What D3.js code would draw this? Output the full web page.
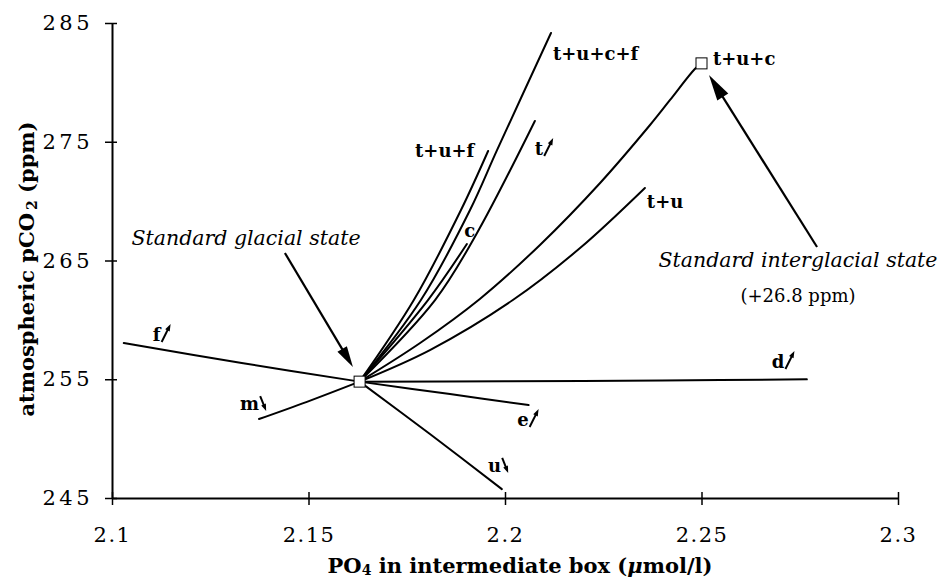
<!DOCTYPE html>
<html>
<head>
<meta charset="utf-8">
<script src="https://cdn.jsdelivr.net/npm/d3@7"></script>
<style>
  body { margin: 0; background: #fff; }
  svg { display: block; }
  text { font-family: "DejaVu Serif", serif; fill: #000; }
</style>
</head>
<body>
<svg id="chart" width="944" height="580"></svg>
<script>
// Axis ticks
const xTicks = [2.1, 2.15, 2.2, 2.25, 2.3];
const yTicks = [245, 255, 265, 275, 285];

// Model states [PO4 (umol/l), pCO2 (ppm)]
const glacialState = [2.163, 254.8];
const interglacialState = [2.25, 281.6];

// Sensitivity runs, each starting from the standard glacial state
const runF    = [[2.133, 256.37], [2.103, 258.05]];
const runM    = [[2.1496, 253.1], [2.1374, 251.65]];
const runE    = [[2.186, 253.75], [2.206, 252.83]];
const runD    = [[2.2, 254.83], [2.24, 254.9], [2.2768, 254.99]];
const runU    = [[2.1809, 250.39], [2.1992, 245.75]];
const runTUF  = [[2.1768, 261.67], [2.1888, 269.25], [2.1957, 274.22]];
const runTUCF = [[2.1786, 261.67], [2.1911, 269.25], [2.198, 274.31], [2.2117, 284.16]];
const runC    = [[2.1804, 261.67], [2.1903, 266.39]];
const runT    = [[2.1822, 261.67], [2.1926, 267.15], [2.2076, 276.75]];
const runTU   = [[2.1809, 257.46], [2.202, 261.67], [2.2191, 266.05], [2.2356, 271.11]];
const runTUC  = [[2.1784, 258.05], [2.1936, 261.76], [2.2089, 266.31], [2.2242, 271.53], [2.2369, 276.41], [2.242, 278.52], [2.2483, 281.13], [2.25, 281.6]];

const runs = [runF, runM, runE, runD, runU, runTUF, runTUCF, runC, runT, runTU, runTUC];

// Curve labels: text, anchor [PO4, pCO2], optional direction arrow
const curveLabels = [
  { text: "t+u+c+f", at: [2.2122, 281.88] },
  { text: "t+u+f",   at: [2.1771, 273.72] },
  { text: "t",       at: [2.2076, 273.88], arrow: "up" },
  { text: "c",       at: [2.1896, 266.98] },
  { text: "t+u",     at: [2.2361, 269.42] },
  { text: "t+u+c",   at: [2.2529, 281.46] },
  { text: "f",       at: [2.1104, 258.22], arrow: "up" },
  { text: "m",       at: [2.1326, 252.41], arrow: "down" },
  { text: "e",       at: [2.2031, 251.06], arrow: "up" },
  { text: "d",       at: [2.2679, 255.95], arrow: "up" },
  { text: "u",       at: [2.1957, 247.19], arrow: "down" }
];

// Callout arrows: tail -> tip
const glacialCallout = { tail: [2.144, 265.63], tip: [2.1613, 256.03] };
const interglacialCallout = { tail: [2.2794, 266.14], tip: [2.2519, 280.62] };

const svg = d3.select("#chart");
const x = d3.scaleLinear().domain([2.1, 2.3]).range([112, 898]);
const y = d3.scaleLinear().domain([245, 285]).range([498, 23]);

svg.append("rect").attr("width", 944).attr("height", 580).attr("fill", "#fff");

// Axes with ticks crossing the axis line
const xAxis = svg.append("g").attr("transform", `translate(0,${y(245)})`)
  .call(d3.axisBottom(x).tickValues(xTicks).tickSize(7).tickSizeOuter(0).tickPadding(22)
    .tickFormat(d => d3.format("")(+d.toFixed(2))));
const yAxis = svg.append("g").attr("transform", `translate(${x(2.1)},0)`)
  .call(d3.axisLeft(y).tickValues(yTicks).tickSize(7).tickSizeOuter(0).tickPadding(12));

[xAxis, yAxis].forEach(g => {
  g.select(".domain").attr("stroke", "#000").attr("stroke-width", 2);
  g.selectAll(".tick line").attr("stroke", "#000").attr("stroke-width", 1.5);
  g.selectAll(".tick text").style("font-family", "DejaVu Serif").style("font-size", "21px");
});
xAxis.selectAll(".tick line").attr("y1", -6);
xAxis.selectAll(".tick text").style("letter-spacing", "1.5px");
yAxis.selectAll(".tick line").attr("x1", 5);
yAxis.selectAll(".tick text").style("letter-spacing", "3.5px");

// Runs
const line = d3.line().x(d => x(d[0])).y(d => y(d[1])).curve(d3.curveCatmullRom.alpha(0.5));
svg.append("g").selectAll("path").data(runs).join("path")
  .attr("d", r => line([glacialState, ...r]))
  .attr("fill", "none").attr("stroke", "#000").attr("stroke-width", 2)
  .attr("stroke-linecap", "round");

// Arrow helper
function arrow(g, x1, y1, x2, y2, headLen, headW, sw) {
  const dx = x2 - x1, dy = y2 - y1, L = Math.hypot(dx, dy);
  const ux = dx / L, uy = dy / L;
  const bx = x2 - ux * headLen, by = y2 - uy * headLen;
  g.append("line").attr("x1", x1).attr("y1", y1).attr("x2", bx + ux).attr("y2", by + uy)
    .attr("stroke", "#000").attr("stroke-width", sw);
  g.append("path")
    .attr("d", `M${x2},${y2}L${bx - uy * headW / 2},${by + ux * headW / 2}L${bx + uy * headW / 2},${by - ux * headW / 2}Z`)
    .attr("fill", "#000");
}

const ann = svg.append("g");
arrow(ann, x(glacialCallout.tail[0]), y(glacialCallout.tail[1]), x(glacialCallout.tip[0]), y(glacialCallout.tip[1]), 21, 11, 2.2);
arrow(ann, x(interglacialCallout.tail[0]), y(interglacialCallout.tail[1]), x(interglacialCallout.tip[0]), y(interglacialCallout.tip[1]), 26, 13, 2.2);

// State markers
[glacialState, interglacialState].forEach(s => {
  svg.append("rect").attr("x", x(s[0]) - 5.5).attr("y", y(s[1]) - 5.5)
    .attr("width", 11).attr("height", 11).attr("fill", "#fff")
    .attr("stroke", "#000").attr("stroke-width", 1);
});

// Curve labels
const lab = svg.append("g");
curveLabels.forEach(l => {
  const px = x(l.at[0]), py = y(l.at[1]);
  const t = lab.append("text").attr("x", px).attr("y", py)
    .style("font-size", "18px").style("font-weight", "bold").text(l.text);
  if (l.arrow) {
    const ex = px + t.node().getComputedTextLength();
    if (l.arrow === "up") arrow(lab, ex + 1, py + 1, ex + 10, py - 17, 7, 5, 2);
    else arrow(lab, ex + 1, py - 14, ex + 7, py + 1, 7, 5, 2);
  }
});

// State captions
svg.append("text").attr("x", 246).attr("y", 245).attr("text-anchor", "middle")
  .style("font-size", "20.5px").style("font-style", "italic").text("Standard glacial state");
svg.append("text").attr("x", 798).attr("y", 267).attr("text-anchor", "middle")
  .style("font-size", "20.5px").style("font-style", "italic").text("Standard interglacial state");
svg.append("text").attr("x", 798).attr("y", 302).attr("text-anchor", "middle")
  .style("font-size", "18px").text("(+26.8 ppm)");

// Axis titles
const yt = svg.append("text").attr("transform", "translate(34,269) rotate(-90)")
  .attr("text-anchor", "middle").style("font-size", "21px").style("font-weight", "bold");
yt.append("tspan").text("atmospheric pCO");
yt.append("tspan").attr("dx", 3).attr("dy", 3).style("font-size", "14px").text("2");
yt.append("tspan").attr("dy", -3).text(" (ppm)");

const xt = svg.append("text").attr("x", 520).attr("y", 573)
  .attr("text-anchor", "middle").style("font-size", "21px").style("font-weight", "bold");
xt.append("tspan").text("PO");
xt.append("tspan").attr("dy", 2).style("font-size", "14px").text("4");
xt.append("tspan").attr("dy", -2).text(" in intermediate box (");
xt.append("tspan").style("font-style", "italic").text("\u03bc");
xt.append("tspan").text("mol/l)");
</script>
</body>
</html>
